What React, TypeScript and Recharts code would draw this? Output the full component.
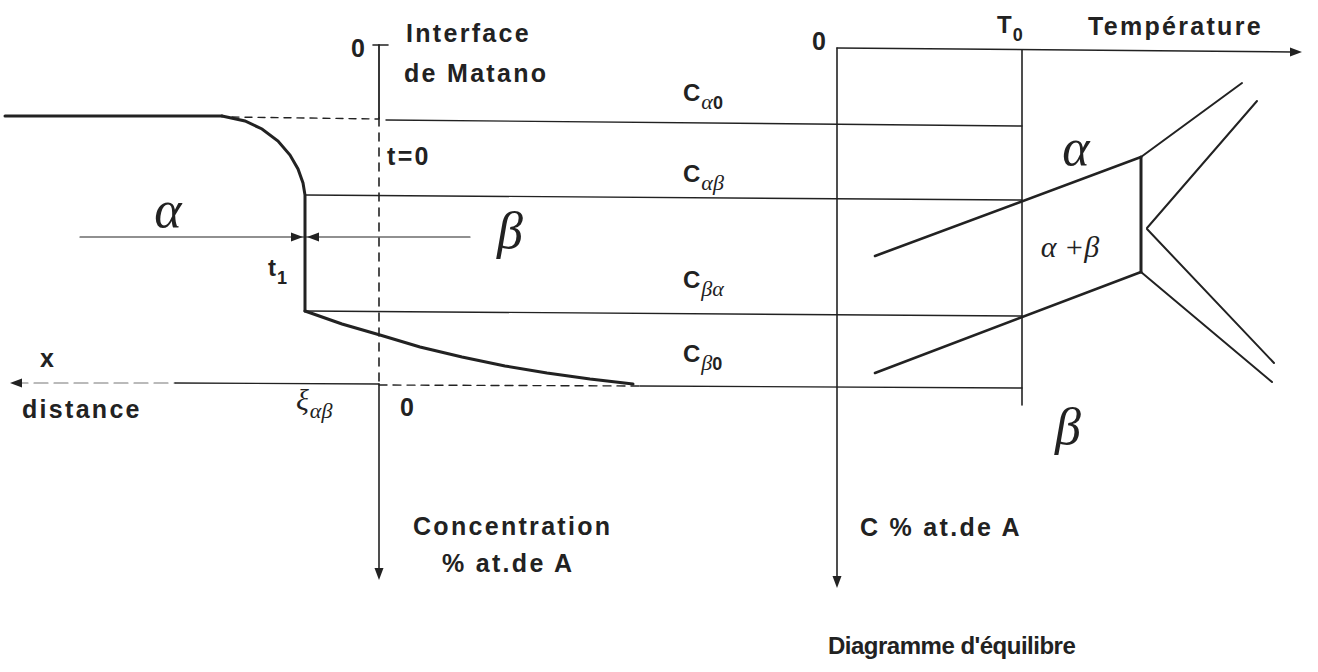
import React from 'react';
import { ComposedChart, Line, XAxis, YAxis, ReferenceDot } from 'recharts';

const W = 1318;
const H = 672;

// concentration profile of the diffusion couple
const alphaPlateau = [{ x: 5, y: 116 }, { x: 222, y: 116 }];
const alphaProfile = [
  { x: 222, y: 116 }, { x: 245, y: 121 }, { x: 262, y: 129 }, { x: 278, y: 141 },
  { x: 290, y: 155 }, { x: 298, y: 169 }, { x: 303, y: 183 }, { x: 305, y: 195 },
  { x: 305, y: 311 },
];
const betaProfile = [
  { x: 305, y: 311 }, { x: 342, y: 324 }, { x: 380, y: 335 }, { x: 420, y: 347 },
  { x: 462, y: 357 }, { x: 505, y: 366 }, { x: 547, y: 373 }, { x: 590, y: 379 },
  { x: 633, y: 384 },
];

// construction lines
const plateauDash = [{ x: 232, y: 117 }, { x: 379, y: 119 }];
const cAlpha0 = [{ x: 386, y: 120 }, { x: 1022, y: 126 }];
const cAlphaBeta = [{ x: 305, y: 195 }, { x: 1022, y: 200 }];
const cBetaAlpha = [{ x: 305, y: 311 }, { x: 1022, y: 316 }];
const cBeta0 = [{ x: 640, y: 386 }, { x: 1022, y: 388 }];
const betaDash = [{ x: 379, y: 385 }, { x: 640, y: 386 }];
const t1Line = [{ x: 80, y: 237 }, { x: 470, y: 237 }];

// axes of the left panel
const distanceFaint = [{ x: 14, y: 383 }, { x: 175, y: 383 }];
const distanceAxis = [{ x: 175, y: 383 }, { x: 379, y: 384 }];
const matanoTick = [{ x: 373, y: 45 }, { x: 388, y: 45 }];
const matanoTop = [{ x: 379, y: 45 }, { x: 379, y: 118 }];
const matanoDash = [{ x: 379, y: 118 }, { x: 379, y: 384 }];
const concAxis = [{ x: 379, y: 384 }, { x: 379, y: 570 }];

// equilibrium diagram
const tempAxis = [{ x: 837, y: 48 }, { x: 1292, y: 52 }];
const compAxis = [{ x: 837, y: 48 }, { x: 837, y: 577 }];
const t0Line = [{ x: 1022, y: 50 }, { x: 1022, y: 405 }];
const alphaSolvus = [{ x: 875, y: 256 }, { x: 1141, y: 157 }];
const betaSolvus = [{ x: 875, y: 373 }, { x: 1141, y: 272 }];
const threePhase = [{ x: 1141, y: 157 }, { x: 1141, y: 272 }];
const upperLeft = [{ x: 1141, y: 157 }, { x: 1242, y: 83 }];
const upperRight = [{ x: 1147, y: 228 }, { x: 1257, y: 101 }];
const lowerRight = [{ x: 1147, y: 229 }, { x: 1274, y: 363 }];
const lowerLeft = [{ x: 1141, y: 272 }, { x: 1272, y: 382 }];

const arrowHeads = [
  { x: 379, y: 580, angle: 90 },
  { x: 837, y: 588, angle: 90 },
  { x: 10, y: 383, angle: 180 },
  { x: 1302, y: 52, angle: 0 },
  { x: 303, y: 237, angle: 0 },
  { x: 307, y: 237, angle: 180 },
];

// texts
const sansLabels = [
  { text: '0', x: 351, y: 57 },
  { text: 'Interface', x: 406, y: 42 },
  { text: 'de Matano', x: 404, y: 82 },
  { text: 't=0', x: 387, y: 165 },
  { text: 'x', x: 40, y: 367 },
  { text: 'distance', x: 22, y: 418 },
  { text: '0', x: 400, y: 416 },
  { text: 'Concentration', x: 413, y: 535 },
  { text: '% at.de A', x: 442, y: 572 },
  { text: '0', x: 812, y: 50 },
  { text: 'Température', x: 1088, y: 35 },
  { text: 'C % at.de A', x: 860, y: 536 },
];
const captionLabels = [{ text: "Diagramme d'équilibre", x: 828, y: 654 }];

const subLabels = [
  { base: 'C', sub: 'α0', x: 683, y: 101 },
  { base: 'C', sub: 'αβ', x: 683, y: 182 },
  { base: 'C', sub: 'βα', x: 683, y: 288 },
  { base: 'C', sub: 'β0', x: 683, y: 362 },
  { base: 'T', sub: '0', x: 997, y: 33 },
  { base: 't', sub: '1', x: 268, y: 276 },
  { base: 'ξ', sub: 'αβ', x: 296, y: 410 },
];

const phaseLabels = [
  { text: 'α', x: 168, y: 227 },
  { text: 'β', x: 510, y: 248 },
  { text: 'α', x: 1076, y: 165 },
  { text: 'β', x: 1068, y: 444 },
];
const mixLabels = [{ text: 'α +β', x: 1070, y: 257 }];

const SANS = '"Liberation Sans", Arial, sans-serif';
const SERIF = '"Liberation Serif", "Times New Roman", serif';
const INK = '#222';
const isGreek = (c: string) => /[α-ωΑ-Ω]/.test(c);

const seg = (key: string, data: { x: number; y: number }[], width: number, dash?: string, color = INK) => (
  <Line
    key={key}
    data={data}
    dataKey="y"
    type="linear"
    stroke={color}
    strokeWidth={width}
    strokeDasharray={dash}
    dot={false}
    activeDot={false}
    isAnimationActive={false}
    strokeLinecap="round"
  />
);

const at = (key: string, x: number, y: number, content: React.ReactNode) => (
  <ReferenceDot
    key={key}
    x={x}
    y={y}
    r={0}
    ifOverflow="visible"
    shape={(p: any) => <g transform={`translate(${p.cx},${p.cy})`}>{content}</g>}
  />
);

export default function App() {
  const sansStyle = { fontFamily: SANS, fontWeight: 700, fontSize: 25, letterSpacing: 2.3, fill: INK };
  const captionStyle = { fontFamily: SANS, fontWeight: 700, fontSize: 24, letterSpacing: -0.5, fill: INK };
  return (
    <div style={{ position: 'absolute', left: 0, top: 0, width: W, height: H, background: '#fff' }}>
      <ComposedChart width={W} height={H} margin={{ top: 0, right: 0, bottom: 0, left: 0 }}>
        <XAxis dataKey="x" type="number" domain={[0, W]} hide allowDataOverflow />
        <YAxis type="number" domain={[0, H]} reversed hide allowDataOverflow />

        {seg('alphaPlateau', alphaPlateau, 3)}
        {seg('alphaProfile', alphaProfile, 3)}
        {seg('betaProfile', betaProfile, 3)}

        {seg('plateauDash', plateauDash, 1.4, '7 6')}
        {seg('cAlpha0', cAlpha0, 1.4)}
        {seg('cAlphaBeta', cAlphaBeta, 1.4)}
        {seg('cBetaAlpha', cBetaAlpha, 1.4)}
        {seg('cBeta0', cBeta0, 1.4)}
        {seg('betaDash', betaDash, 1.4, '8 6')}
        {seg('t1Line', t1Line, 1.2)}

        {seg('distanceFaint', distanceFaint, 1.2, '14 6', '#777')}
        {seg('distanceAxis', distanceAxis, 1.4)}
        {seg('matanoTick', matanoTick, 1.6)}
        {seg('matanoTop', matanoTop, 1.8)}
        {seg('matanoDash', matanoDash, 1.6, '8 7')}
        {seg('concAxis', concAxis, 1.6)}

        {seg('tempAxis', tempAxis, 1.5)}
        {seg('compAxis', compAxis, 1.6)}
        {seg('t0Line', t0Line, 1.6)}
        {seg('alphaSolvus', alphaSolvus, 2.6)}
        {seg('betaSolvus', betaSolvus, 2.6)}
        {seg('threePhase', threePhase, 3)}
        {seg('upperLeft', upperLeft, 2)}
        {seg('upperRight', upperRight, 2)}
        {seg('lowerRight', lowerRight, 2)}
        {seg('lowerLeft', lowerLeft, 2)}

        {arrowHeads.map((a, i) =>
          at(`arrow-${i}`, a.x, a.y, <path d="M0,0 L-12,-4.5 L-12,4.5 Z" fill={INK} transform={`rotate(${a.angle})`} />)
        )}

        {sansLabels.map((l, i) =>
          at(`sans-${i}`, l.x, l.y, <text x={0} y={0} style={sansStyle}>{l.text}</text>)
        )}
        {captionLabels.map((l, i) =>
          at(`caption-${i}`, l.x, l.y, <text x={0} y={0} style={captionStyle}>{l.text}</text>)
        )}

        {subLabels.map((l, i) =>
          at(
            `sub-${i}`,
            l.x,
            l.y,
            <text x={0} y={0} style={{ fill: INK }}>
              <tspan
                fontFamily={isGreek(l.base) ? SERIF : SANS}
                fontStyle={isGreek(l.base) ? 'italic' : 'normal'}
                fontWeight={isGreek(l.base) ? 400 : 700}
                fontSize={isGreek(l.base) ? 30 : 24}
              >
                {l.base}
              </tspan>
              {l.sub.split('').map((c, j) => (
                <tspan
                  key={j}
                  dy={j === 0 ? 8 : 0}
                  dx={j === 0 ? 1 : 0}
                  fontFamily={isGreek(c) ? SERIF : SANS}
                  fontStyle={isGreek(c) ? 'italic' : 'normal'}
                  fontWeight={isGreek(c) ? 400 : 700}
                  fontSize={isGreek(c) ? 22 : 18}
                >
                  {c}
                </tspan>
              ))}
            </text>
          )
        )}

        {phaseLabels.map((l, i) =>
          at(
            `phase-${i}`,
            l.x,
            l.y,
            <text x={0} y={0} textAnchor="middle" fontFamily={SERIF} fontStyle="italic" fontSize={52} fill={INK}>
              {l.text}
            </text>
          )
        )}
        {mixLabels.map((l, i) =>
          at(
            `mix-${i}`,
            l.x,
            l.y,
            <text x={0} y={0} textAnchor="middle" fontFamily={SERIF} fontStyle="italic" fontSize={30} fill={INK}>
              {l.text}
            </text>
          )
        )}
      </ComposedChart>
    </div>
  );
}
